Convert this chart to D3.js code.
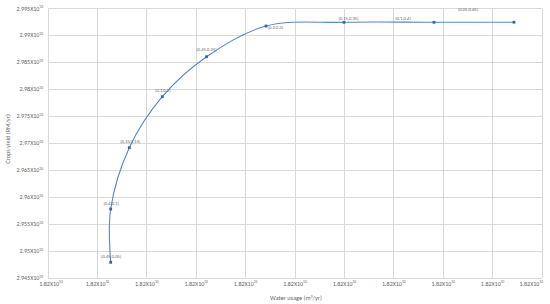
<!DOCTYPE html>
<html><head><meta charset="utf-8">
<script src="https://cdn.jsdelivr.net/npm/d3@7"></script>
<style>
body{margin:0;background:#fff;}
text{font-family:Calibri,"Liberation Sans","DejaVu Sans",sans-serif;fill:#666;}
</style></head>
<body><svg id="c" width="550" height="304"></svg>
<script>
// ---- data ----
const pointLabels = ["(0.45,0.05)","(0.4,0.1)","(0.35,0.15)","(0.3,0.2)","(0.25,0.25)","(0.2,0.3)","(0.15,0.35)","(0.1,0.4)","(0.05,0.45)"];
const waterUsage = [18201269000,18201269000,18201646000,18202314000,18203209000,18204413000,18205992000,18207814000,18209433000];
const cropYield  = [29479100000,29578000000,29691700000,29786400000,29860500000,29917500000,29924400000,29924400000,29924500000];
const xTicks = [18200000000,18201000000,18202000000,18203000000,18204000000,18205000000,18206000000,18207000000,18208000000,18209000000,18210000000];
const yTicks = [29450000000,29500000000,29550000000,29600000000,29650000000,29700000000,29750000000,29800000000,29850000000,29900000000,29950000000];
const xTitle = "Water usage (m³/yr)";
const yTitle = "Crops yield (RM/yr)";

// ---- layout ----
const L=48, R=542, T=8.5, B=278;
const svg = d3.select("#c");
const x = d3.scaleLinear().domain([xTicks[0], xTicks[xTicks.length-1]]).range([L,R]);
const y = d3.scaleLinear().domain([yTicks[0], yTicks[yTicks.length-1]]).range([B,T]);

// gridlines
svg.append("g").selectAll("line").data(xTicks).join("line")
  .attr("x1",d=>x(d)).attr("x2",d=>x(d)).attr("y1",T).attr("y2",B)
  .attr("stroke","#d9d9d9").attr("stroke-width",1).attr("shape-rendering","crispEdges");
svg.append("g").selectAll("line").data(yTicks).join("line")
  .attr("x1",L).attr("x2",R).attr("y1",d=>y(d)).attr("y2",d=>y(d))
  .attr("stroke","#d9d9d9").attr("stroke-width",1).attr("shape-rendering","crispEdges");

// axis tick labels
const nX = xTicks.length;
const xl = svg.append("g").selectAll("text").data(xTicks).join("text")
  .attr("x",(d,i)=> i===0 ? x(d)+3 : (i===nX-1 ? R+1 : x(d)))
  .attr("y",B+7.5)
  .attr("text-anchor",(d,i)=> i===nX-1 ? "end" : "middle").attr("font-size",6);
xl.append("tspan").text(d=>(d/1e10).toFixed(2)+"X10");
xl.append("tspan").attr("dy",-2.2).attr("font-size",3.6).text("10");

const yl = svg.append("g").selectAll("text").data(yTicks).join("text")
  .attr("x",L-5).attr("y",d=>y(d)+2).attr("text-anchor","end").attr("font-size",6);
yl.append("tspan").text(d=>{let s=(d/1e10).toFixed(3); s=s.replace(/0+$/,''); return s+"X10";});
yl.append("tspan").attr("dy",-2.2).attr("font-size",3.6).text("10");

// axis titles
const xt = svg.append("text").attr("x",296).attr("y",300).attr("text-anchor","middle").attr("font-size",6.3);
xt.append("tspan").text("Water usage (m");
xt.append("tspan").attr("dy",-2).attr("font-size",4).text("3");
xt.append("tspan").attr("dy",2).text("/yr)");
svg.append("text").attr("transform","translate(9.5,139) rotate(-90)").attr("text-anchor","middle")
  .attr("font-size",6.3).text(yTitle);

// series
const pts = waterUsage.map((w,i)=>({x:x(w), y:y(cropYield[i]), label:pointLabels[i]}));
svg.append("path").datum(pts)
  .attr("d", d3.line().x(d=>d.x).y(d=>d.y).curve(d3.curveCatmullRom.alpha(0.5)))
  .attr("fill","none").attr("stroke","#5b84c9").attr("stroke-width",1.1);
svg.append("g").selectAll("rect").data(pts).join("rect")
  .attr("x",d=>d.x-1.4).attr("y",d=>d.y-1.4).attr("width",2.8).attr("height",2.8)
  .attr("fill","#3a62ad");

// data labels (placement offsets)
const place = [[0.5,-4.5,"middle"],[0.5,-4.5,"middle"],[1,-4.5,"middle"],[0.5,-5,"middle"],[0,-6,"middle"],[1.5,2.7,"start"],[4.5,-2.5,"middle"],[-31,-2.5,"middle"],[-46,-11.5,"middle"]];
svg.append("g").selectAll("text").data(pts).join("text")
  .attr("x",(d,i)=>d.x+place[i][0]).attr("y",(d,i)=>d.y+place[i][1])
  .attr("text-anchor",(d,i)=>place[i][2]).attr("font-size",4.6).text(d=>d.label);
</script></body></html>
